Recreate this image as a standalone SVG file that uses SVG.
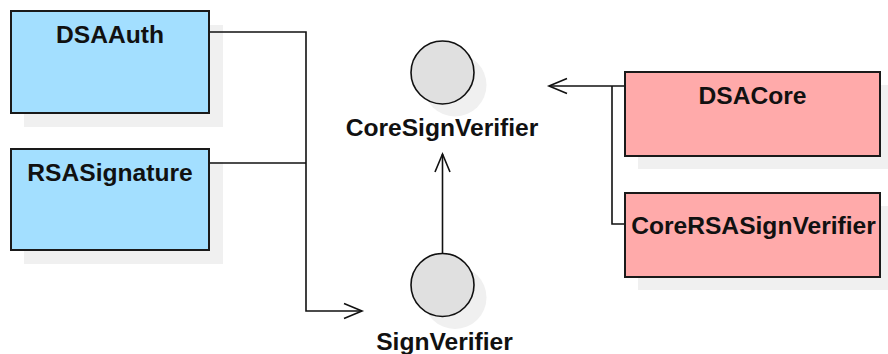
<svg xmlns="http://www.w3.org/2000/svg" width="888" height="354" viewBox="0 0 888 354">
<defs>
<style>
.shadow{fill:#f0f0f0;stroke:none}
.blue{fill:#a3dfff;stroke:#1a1a1a;stroke-width:2}
.pink{fill:#ffaaaa;stroke:#1a1a1a;stroke-width:2}
.iface{fill:#e0e0e0;stroke:#111;stroke-width:1.6}
.lbl{font-family:"Liberation Sans",Arial,sans-serif;font-weight:bold;font-size:24.6px;fill:#111;text-anchor:middle}
.conn{fill:none;stroke:#111;stroke-width:1.6}
</style>
<marker id="open" markerUnits="userSpaceOnUse" markerWidth="24" markerHeight="20" viewBox="-20 -10 24 20" refX="0" refY="0" orient="auto">
<path d="M-18,-7.5 L0,0 L-18,7.5" fill="none" stroke="#111" stroke-width="1.6"/>
</marker>
</defs>
<rect width="888" height="354" fill="#fff"/>
<g id="DSAAuth">
<rect class="shadow" x="24" y="25" width="199" height="102"/>
<rect class="blue" x="11" y="11" width="198" height="102"/>
<text class="lbl" x="110" y="43">DSAAuth</text>
</g>
<g id="RSASignature">
<rect class="shadow" x="24" y="162" width="199" height="102"/>
<rect class="blue" x="11" y="149" width="198" height="101"/>
<text class="lbl" x="110" y="181">RSASignature</text>
</g>
<g id="DSACore">
<rect class="shadow" x="638" y="85" width="255" height="84"/>
<rect class="pink" x="625" y="72" width="255" height="84"/>
<text class="lbl" x="752.5" y="104">DSACore</text>
</g>
<g id="CoreRSASignVerifier">
<rect class="shadow" x="638" y="206" width="255" height="84"/>
<rect class="pink" x="625" y="193" width="255" height="84"/>
<text class="lbl" x="753.5" y="234">CoreRSASignVerifier</text>
</g>
<g id="CoreSignVerifier">
<circle class="shadow" cx="455" cy="85" r="31.5"/>
<circle class="iface" cx="442.5" cy="72.5" r="31.5"/>
<text class="lbl" x="442" y="136">CoreSignVerifier</text>
</g>
<g id="SignVerifier">
<circle class="shadow" cx="455" cy="297.5" r="31.5"/>
<circle class="iface" cx="442.5" cy="285" r="31.5"/>
<text class="lbl" x="444.5" y="350">SignVerifier</text>
</g>
<g id="connectors">
<path class="conn" d="M210,32 L306,32 L306,311 L362,311" marker-end="url(#open)"/>
<path class="conn" d="M210,163 L306,163"/>
<path class="conn" d="M624,86 L549,86" marker-end="url(#open)"/>
<path class="conn" d="M624,224 L612,224 L612,86"/>
<path class="conn" d="M442.5,253.5 L442.5,154" marker-end="url(#open)"/>
</g>
</svg>
